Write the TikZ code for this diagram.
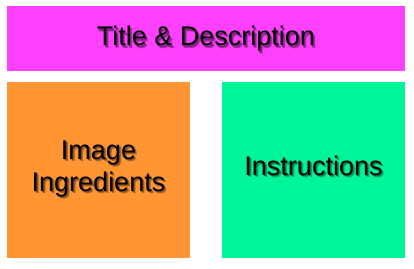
\documentclass[tikz,border=0pt]{standalone}
\usepackage{fontspec}
\setmainfont{Liberation Sans}
\definecolor{titlemagenta}{HTML}{FF40FF}
\definecolor{ingorange}{HTML}{FF9533}
\definecolor{instgreen}{HTML}{00F59A}
% one line of text with a soft drop shadow tinted towards the panel colour
\newcommand\shadowline[2]{\leavevmode
  \rlap{\kern2.2pt\raisebox{-2.4pt}{\color{#1!70!black}#2}}%
  \rlap{\kern1.2pt\raisebox{-1.5pt}{\color{#1!50!black}#2}}%
  #2}
\begin{document}
\begin{tikzpicture}[x=1pt, y=-1pt,
  panel/.style={draw=none},
  lbl/.style={inner sep=0pt, align=center, text=black,
    font=\fontsize{27}{32}\selectfont}]
  \useasboundingbox (0,0) rectangle (414,268);
  \fill[white] (0,0) rectangle (414,268);
  % three coloured panels
  \fill[panel, titlemagenta] (7,6) rectangle (405,71);
  \fill[panel, ingorange] (7,82) rectangle (190,258);
  \fill[panel, instgreen] (222,82) rectangle (405,258);
  % panel captions
  \node[lbl] (title) at (206,40)
    {\shadowline{titlemagenta}{Title \& Description}};
  \node[lbl] (ing) at (98.5,170)
    {\shadowline{ingorange}{Image}\\\shadowline{ingorange}{Ingredients}};
  \node[lbl] (inst) at (313.5,167)
    {\shadowline{instgreen}{Instructions}};
\end{tikzpicture}
\end{document}
